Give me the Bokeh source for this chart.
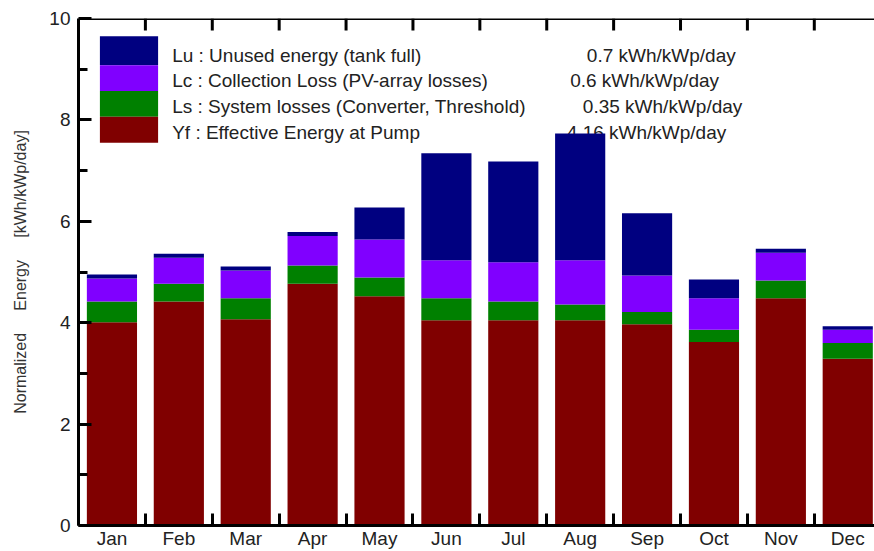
import numpy as np
from bokeh.plotting import figure
from bokeh.models import (ColumnDataSource, FixedTicker, Range1d,
                          Label, BoxAnnotation, Span)
from bokeh.embed import file_html
from bokeh.resources import INLINE

# ---------------- data ----------------
months = ["Jan", "Feb", "Mar", "Apr", "May", "Jun",
          "Jul", "Aug", "Sep", "Oct", "Nov", "Dec"]
Yf = [4.01, 4.42, 4.07, 4.77, 4.52, 4.05, 4.05, 4.05, 3.97, 3.62, 4.48, 3.29]
Ls = [0.41, 0.35, 0.41, 0.36, 0.37, 0.43, 0.37, 0.31, 0.24, 0.24, 0.35, 0.31]
Lc = [0.45, 0.51, 0.55, 0.58, 0.75, 0.75, 0.77, 0.87, 0.72, 0.62, 0.55, 0.26]
Lu = [0.08, 0.08, 0.08, 0.08, 0.63, 2.11, 1.99, 2.50, 1.23, 0.37, 0.08, 0.07]

y_ticks = [0, 2, 4, 6, 8, 10]
y_minor_ticks = [1, 3, 5, 7, 9]

legend_keys = ["Lu", "Lc", "Ls", "Yf"]
legend_labels = ["Lu : Unused energy (tank full)",
                 "Lc : Collection Loss (PV-array losses)",
                 "Ls : System losses (Converter, Threshold)",
                 "Yf : Effective Energy at Pump"]
legend_values = ["0.7 kWh/kWp/day", "0.6 kWh/kWp/day",
                 "0.35 kWh/kWp/day", "4.16 kWh/kWp/day"]

colors = {"Yf": "#800000", "Ls": "#008000", "Lc": "#8000ff", "Lu": "#000080"}
FONT = "Liberation Sans"
TXT = "#222222"

# ---------------- figure ----------------
n = len(months)
centers = [i + 0.5 for i in range(n)]
bounds = list(range(n + 1))
y_max = y_ticks[-1]

src = ColumnDataSource(dict(x=centers, Yf=Yf, Ls=Ls, Lc=Lc, Lu=Lu))
tsrc = ColumnDataSource(dict(x=bounds, y=[y_max] * len(bounds)))

p = figure(width=874, height=551,
           x_range=Range1d(0, 11.9), y_range=Range1d(0, y_max),
           output_backend="svg", toolbar_location=None,
           min_border_left=78, min_border_right=0,
           min_border_top=18, min_border_bottom=0)
p.outline_line_color = None
p.xgrid.visible = False
p.ygrid.visible = False
p.background_fill_color = "white"
p.border_fill_color = "white"

stack = ["Yf", "Ls", "Lc", "Lu"]
p.vbar_stack(stack, x="x", width=0.75, source=src,
             color=[colors[k] for k in stack], line_color=None)

# top frame line with inward ticks at month boundaries
p.add_layout(Span(location=y_max, dimension="width",
                  line_color="black", line_width=3))
p.ray(x="x", y="y", length=12, length_units="screen", angle=-np.pi / 2,
      source=tsrc, line_color="black", line_width=3)

# bottom axis: month labels at centres, ticks at boundaries
xa = p.xaxis[0]
xa.ticker = FixedTicker(ticks=centers, minor_ticks=bounds)
xa.major_label_overrides = {c: m for c, m in zip(centers, months)}
xa.major_tick_in = 0
xa.major_tick_out = 0
xa.minor_tick_in = 12
xa.minor_tick_out = 0
xa.minor_tick_line_width = 3
xa.minor_tick_line_color = "black"
xa.axis_line_width = 3
xa.axis_line_color = "black"
xa.major_label_standoff = 2
xa.major_label_text_font = FONT
xa.major_label_text_font_size = "19px"
xa.major_label_text_color = TXT

# left axis
ya = p.yaxis[0]
ya.ticker = FixedTicker(ticks=y_ticks, minor_ticks=y_minor_ticks)
ya.major_tick_in = 13
ya.major_tick_out = 0
ya.minor_tick_in = 9
ya.minor_tick_out = 0
ya.major_tick_line_width = 3
ya.minor_tick_line_width = 3
ya.axis_line_width = 3
ya.axis_line_color = "black"
ya.major_label_standoff = 8
ya.major_label_text_font = FONT
ya.major_label_text_font_size = "19px"
ya.major_label_text_color = TXT
nb = "\u00a0" * 5
ya.axis_label = "Normalized" + nb + "Energy" + nb + "[kWh/kWp/day]"
ya.axis_label_text_font = FONT
ya.axis_label_text_font_size = "16px"
ya.axis_label_text_font_style = "normal"
ya.axis_label_text_color = "#333333"
ya.axis_label_standoff = 17

# ---------------- legend (drawn inside the frame) ----------------
box_left, box_right = 0.32, 1.19
row_edges = [9.65, 9.08, 8.57, 8.06, 7.55]
text_y = [9.28, 8.77, 8.26, 7.75]
label_x = 1.40
value_x = [7.60, 7.35, 7.54, 7.30]

for i, k in enumerate(legend_keys):
    p.add_layout(BoxAnnotation(left=box_left, right=box_right,
                               top=row_edges[i], bottom=row_edges[i + 1],
                               fill_color=colors[k], fill_alpha=1.0,
                               line_color=None, level="underlay"))
    p.add_layout(Label(x=label_x, y=text_y[i], text=legend_labels[i],
                       text_font=FONT, text_font_size="19px",
                       text_color=TXT, text_baseline="middle",
                       level="underlay"))
    p.add_layout(Label(x=value_x[i], y=text_y[i], text=legend_values[i],
                       text_font=FONT, text_font_size="19px",
                       text_color=TXT, text_baseline="middle",
                       level="underlay"))

open("out.html", "w").write(file_html(p, INLINE))
